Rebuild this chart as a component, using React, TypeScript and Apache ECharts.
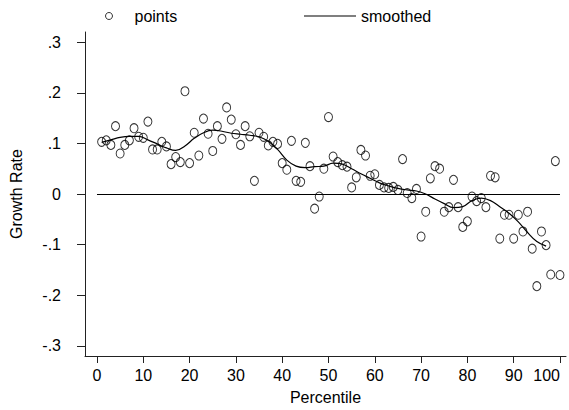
import React, { useEffect, useRef } from "react";
import * as echarts from "echarts";

// Scatter points: percentile 1..100 and growth rate
const pointValues: number[] = [
  0.103, 0.106, 0.097, 0.134, 0.080, 0.097, 0.106, 0.130, 0.113, 0.111,
  0.143, 0.088, 0.088, 0.103, 0.094, 0.059, 0.073, 0.063, 0.203, 0.061,
  0.121, 0.076, 0.149, 0.119, 0.085, 0.134, 0.109, 0.171, 0.147, 0.118,
  0.097, 0.134, 0.114, 0.026, 0.121, 0.113, 0.096, 0.103, 0.099, 0.061,
  0.048, 0.105, 0.026, 0.024, 0.101, 0.055, -0.029, -0.005, 0.050, 0.152,
  0.074, 0.063, 0.057, 0.054, 0.013, 0.033, 0.087, 0.076, 0.036, 0.039,
  0.018, 0.013, 0.012, 0.014, 0.008, 0.069, 0.002, -0.008, 0.010, -0.084,
  -0.035, 0.031, 0.055, 0.050, -0.035, -0.026, 0.028, -0.026, -0.065, -0.054,
  -0.005, -0.014, -0.008, -0.026, 0.036, 0.033, -0.088, -0.041, -0.041, -0.088,
  -0.041, -0.074, -0.035, -0.108, -0.182, -0.074, -0.101, -0.159, 0.065, -0.160,
];
const pointPercentiles: number[] = pointValues.map((_, i) => i + 1);

// Smoothed curve
const smoothPercentiles: number[] = [
  1, 3, 5, 7, 9, 11, 13, 15, 17, 19, 21, 23, 25, 27, 29, 31, 33, 35, 37, 39,
  41, 43, 45, 47, 49, 51, 53, 55, 57, 59, 61, 63, 65, 67, 69, 71, 73, 75, 77,
  79, 81, 83, 85, 87, 89, 91, 93, 95, 97,
];
const smoothValues: number[] = [
  0.102, 0.107, 0.112, 0.114, 0.114, 0.107, 0.099, 0.091, 0.086, 0.095,
  0.110, 0.121, 0.126, 0.124, 0.120, 0.118, 0.116, 0.113, 0.104, 0.088,
  0.067, 0.055, 0.052, 0.054, 0.055, 0.061, 0.059, 0.050, 0.040, 0.031,
  0.022, 0.016, 0.011, 0.008, 0.006, 0.000, -0.010, -0.019, -0.027, -0.025,
  -0.013, -0.008, -0.013, -0.025, -0.038, -0.055, -0.076, -0.094, -0.103,
];

const xTicks: number[] = [0, 10, 20, 30, 40, 50, 60, 70, 80, 90, 100];
const yTicks: number[] = [-0.3, -0.2, -0.1, 0, 0.1, 0.2, 0.3];

const FONT = "Liberation Sans, Arial, sans-serif";

function fmtY(v: number): string {
  const r = Math.round(v * 10);
  if (r === 0) return "0";
  return (r < 0 ? "-" : "") + "." + Math.abs(r);
}

export default function App() {
  const ref = useRef<HTMLDivElement>(null);
  useEffect(() => {
    if (!ref.current) return;
    const chart = echarts.init(ref.current, undefined, { renderer: "svg" });
    chart.setOption({
      animation: false,
      backgroundColor: "#ffffff",
      textStyle: { fontFamily: FONT },
      legend: [
        {
          data: [{ name: "points", icon: "circle", itemStyle: { color: "#fff", borderColor: "#000", borderWidth: 1 } }],
          left: 100,
          top: 3,
          itemWidth: 7,
          itemHeight: 7,
          textStyle: { fontSize: 16, color: "#000", fontFamily: FONT, padding: [0, 0, 0, 17] },
        },
        {
          data: [{ name: "smoothed", icon: "rect" }],
          left: 299,
          top: 3,
          itemWidth: 52,
          itemHeight: 1.2,
          textStyle: { fontSize: 16, color: "#000", fontFamily: FONT },
        },
      ],
      grid: { left: 84, right: 3, top: 32, bottom: 52, containLabel: false },
      xAxis: {
        type: "value",
        min: -2.59,
        max: 101.3,
        name: "Percentile",
        nameLocation: "middle",
        nameGap: 33,
        nameTextStyle: { fontSize: 16, color: "#000", fontFamily: FONT },
        axisLine: { show: true, onZero: false, lineStyle: { color: "#222", width: 1 } },
        axisTick: { show: true, length: 7, customValues: xTicks, lineStyle: { color: "#222" } },
        axisLabel: {
          customValues: xTicks,
          fontSize: 16,
          color: "#000",
          margin: 11,
          fontFamily: FONT,
          alignMaxLabel: "right",
        },
        splitLine: { show: false },
      },
      yAxis: {
        type: "value",
        min: -0.32,
        max: 0.32,
        name: "Growth Rate",
        nameLocation: "middle",
        nameGap: 61,
        nameTextStyle: { fontSize: 16, color: "#000", fontFamily: FONT },
        axisLine: { show: true, onZero: false, lineStyle: { color: "#222", width: 1 } },
        axisTick: { show: true, length: 8, customValues: yTicks, lineStyle: { color: "#222" } },
        axisLabel: {
          customValues: yTicks,
          fontSize: 16,
          color: "#000",
          margin: 24,
          fontFamily: FONT,
          formatter: (v: number) => fmtY(v),
        },
        splitLine: { show: false },
      },
      series: [
        {
          name: "points",
          type: "scatter",
          data: pointPercentiles.map((p, i) => [p, pointValues[i]]),
          symbol: "circle",
          symbolSize: [8, 9],
          itemStyle: { color: "rgba(255,255,255,0)", borderColor: "#000", borderWidth: 1 },
        },
        {
          name: "smoothed",
          type: "line",
          data: smoothPercentiles.map((p, i) => [p, smoothValues[i]]),
          symbol: "none",
          smooth: 0.4,
          lineStyle: { color: "#000", width: 1.2 },
          itemStyle: { color: "#000" },
          markLine: {
            silent: true,
            symbol: "none",
            label: { show: false },
            lineStyle: { color: "#000", width: 1.2, type: "solid" },
            data: [[{ coord: [0, 0] }, { coord: [100, 0] }]],
          },
        },
      ],
    });
    return () => chart.dispose();
  }, []);
  return <div ref={ref} style={{ width: 569, height: 410, position: "absolute", left: 0, top: 0 }} />;
}
